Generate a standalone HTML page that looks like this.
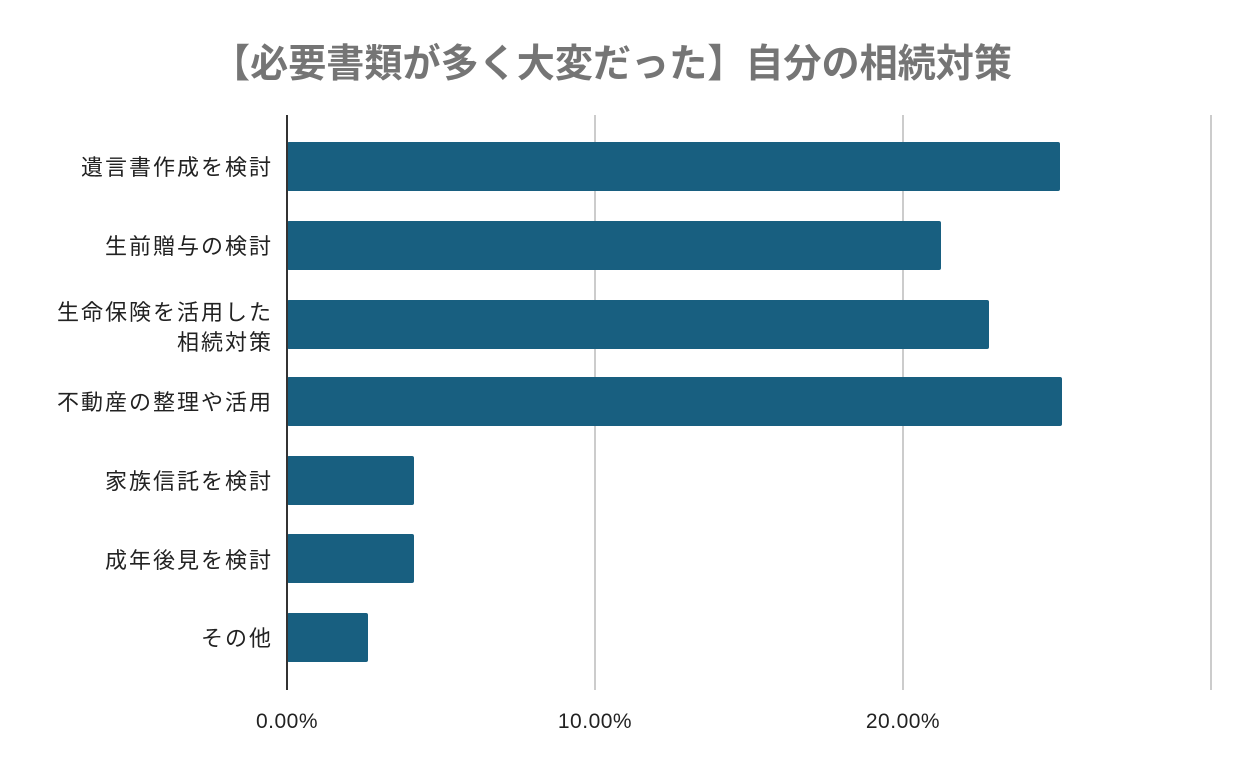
<!DOCTYPE html>
<html><head><meta charset="utf-8"><style>
body{margin:0;width:1250px;height:773px;background:#fff;overflow:hidden;font-family:"Liberation Sans","Noto Sans CJK JP",sans-serif;}
</style></head><body>
<svg width="1250" height="773" xmlns="http://www.w3.org/2000/svg" font-family="Liberation Sans, Noto Sans CJK JP, sans-serif">
<text x="612" y="77" text-anchor="middle" font-size="39" font-weight="bold" fill="#757575" textLength="800" lengthAdjust="spacingAndGlyphs">【必要書類が多く大変だった】自分の相続対策</text>
<g stroke="#cccccc" stroke-width="2">
<line x1="595" y1="115" x2="595" y2="690"/>
<line x1="903" y1="115" x2="903" y2="690"/>
<line x1="1211" y1="115" x2="1211" y2="690"/>
</g>
<g fill="#185f80">
<rect x="287" y="142" width="773" height="49" rx="2"/>
<rect x="287" y="221" width="654" height="49" rx="2"/>
<rect x="287" y="300" width="702" height="49" rx="2"/>
<rect x="287" y="377" width="775" height="49" rx="2"/>
<rect x="287" y="456" width="127" height="49" rx="2"/>
<rect x="287" y="534" width="127" height="49" rx="2"/>
<rect x="287" y="613" width="81" height="49" rx="2"/>
</g>
<line x1="287" y1="115" x2="287" y2="690" stroke="#333" stroke-width="2"/>
<g font-size="22" fill="#222" text-anchor="end" letter-spacing="2">
<text x="273" y="175">遺言書作成を検討</text>
<text x="273" y="254">生前贈与の検討</text>
<text x="273" y="320">生命保険を活用した</text>
<text x="273" y="350">相続対策</text>
<text x="273" y="410">不動産の整理や活用</text>
<text x="273" y="489">家族信託を検討</text>
<text x="273" y="568">成年後見を検討</text>
<text x="273" y="646">その他</text>
</g>
<g font-size="21" fill="#222" text-anchor="middle" letter-spacing="0.5">
<text x="287" y="728">0.00%</text>
<text x="595" y="728">10.00%</text>
<text x="903" y="728">20.00%</text>
</g>
</svg>
</body></html>
